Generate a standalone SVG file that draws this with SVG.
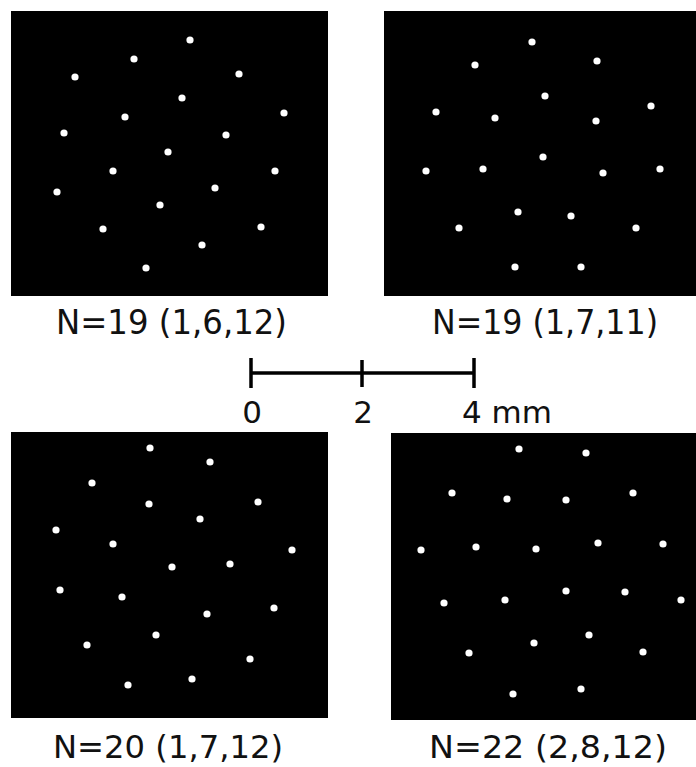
<svg xmlns="http://www.w3.org/2000/svg" width="696" height="767" viewBox="0 0 696 767">
<style>
.panel{fill:#000}
.dot{fill:#fff}
.lbl{font-family:"DejaVu Sans","Liberation Sans",sans-serif;font-size:33px;fill:#111}
.lbl2{font-family:"DejaVu Sans","Liberation Sans",sans-serif;font-size:32px;fill:#111}
.num{font-family:"DejaVu Sans","Liberation Sans",sans-serif;font-size:31px;fill:#111}
.bar{stroke:#000;stroke-width:3.5;fill:none}
</style>
<defs>
<circle id="d" r="3.6" class="dot"/>
</defs>
<rect width="696" height="767" fill="#fff"/>
<g id="panel-n19a">
<rect class="panel" x="11" y="11" width="317" height="285"/>
<use href="#d" x="190" y="40"/><use href="#d" x="134" y="59"/><use href="#d" x="75" y="77"/>
<use href="#d" x="239" y="74"/><use href="#d" x="182" y="98"/><use href="#d" x="284" y="113"/>
<use href="#d" x="125" y="117"/><use href="#d" x="64" y="133"/><use href="#d" x="226" y="135"/>
<use href="#d" x="168" y="152"/><use href="#d" x="113" y="171"/><use href="#d" x="275" y="171"/>
<use href="#d" x="57" y="192"/><use href="#d" x="215" y="188"/><use href="#d" x="160" y="205"/>
<use href="#d" x="103" y="229"/><use href="#d" x="261" y="227"/><use href="#d" x="202" y="245"/>
<use href="#d" x="146" y="268"/>
</g>
<g id="panel-n19b">
<rect class="panel" x="384" y="11" width="312" height="285"/>
<use href="#d" x="532" y="42"/><use href="#d" x="475" y="65"/><use href="#d" x="597" y="61"/>
<use href="#d" x="545" y="96"/><use href="#d" x="651" y="106"/><use href="#d" x="436" y="112"/>
<use href="#d" x="495" y="118"/><use href="#d" x="596" y="121"/><use href="#d" x="543" y="157"/>
<use href="#d" x="426" y="171"/><use href="#d" x="483" y="169"/><use href="#d" x="603" y="173"/>
<use href="#d" x="660" y="169"/><use href="#d" x="518" y="212"/><use href="#d" x="571" y="216"/>
<use href="#d" x="459" y="228"/><use href="#d" x="636" y="228"/><use href="#d" x="515" y="267"/>
<use href="#d" x="581" y="267"/>
</g>
<g id="panel-n20">
<rect class="panel" x="11" y="432" width="317" height="286"/>
<use href="#d" x="150" y="448"/><use href="#d" x="210" y="462"/><use href="#d" x="92" y="483"/>
<use href="#d" x="149" y="504"/><use href="#d" x="258" y="502"/><use href="#d" x="200" y="519"/>
<use href="#d" x="56" y="530"/><use href="#d" x="113" y="544"/><use href="#d" x="292" y="550"/>
<use href="#d" x="172" y="567"/><use href="#d" x="230" y="564"/><use href="#d" x="60" y="590"/>
<use href="#d" x="122" y="597"/><use href="#d" x="274" y="608"/><use href="#d" x="207" y="614"/>
<use href="#d" x="156" y="635"/><use href="#d" x="87" y="645"/><use href="#d" x="250" y="659"/>
<use href="#d" x="192" y="679"/><use href="#d" x="128" y="685"/>
</g>
<g id="panel-n22">
<rect class="panel" x="391" y="433" width="305" height="287"/>
<use href="#d" x="519" y="449"/><use href="#d" x="586" y="453"/><use href="#d" x="452" y="493"/>
<use href="#d" x="507" y="499"/><use href="#d" x="566" y="500"/><use href="#d" x="633" y="493"/>
<use href="#d" x="421" y="550"/><use href="#d" x="476" y="547"/><use href="#d" x="536" y="549"/>
<use href="#d" x="598" y="543"/><use href="#d" x="663" y="544"/><use href="#d" x="444" y="603"/>
<use href="#d" x="505" y="600"/><use href="#d" x="566" y="591"/><use href="#d" x="625" y="592"/>
<use href="#d" x="681" y="600"/><use href="#d" x="534" y="643"/><use href="#d" x="589" y="635"/>
<use href="#d" x="469" y="653"/><use href="#d" x="643" y="652"/><use href="#d" x="513" y="694"/>
<use href="#d" x="581" y="689"/>
</g>
<g id="labels">
<text class="lbl" x="56" y="334" textLength="231" lengthAdjust="spacingAndGlyphs">N=19 (1,6,12)</text>
<text class="lbl" x="432" y="334" textLength="226" lengthAdjust="spacingAndGlyphs">N=19 (1,7,11)</text>
<text class="lbl2" x="53" y="758" textLength="230" lengthAdjust="spacingAndGlyphs">N=20 (1,7,12)</text>
<text class="lbl2" x="429" y="758" textLength="238" lengthAdjust="spacingAndGlyphs">N=22 (2,8,12)</text>
</g>
<g id="scale-bar">
<line class="bar" x1="251" y1="373" x2="474" y2="373"/>
<line class="bar" x1="251" y1="358" x2="251" y2="388"/>
<line class="bar" x1="362" y1="360" x2="362" y2="387"/>
<line class="bar" x1="474" y1="358" x2="474" y2="388"/>
<text class="num" x="252" y="423" text-anchor="middle">0</text>
<text class="num" x="363" y="423" text-anchor="middle">2</text>
<text class="num" x="462" y="423">4 mm</text>
</g>
</svg>
